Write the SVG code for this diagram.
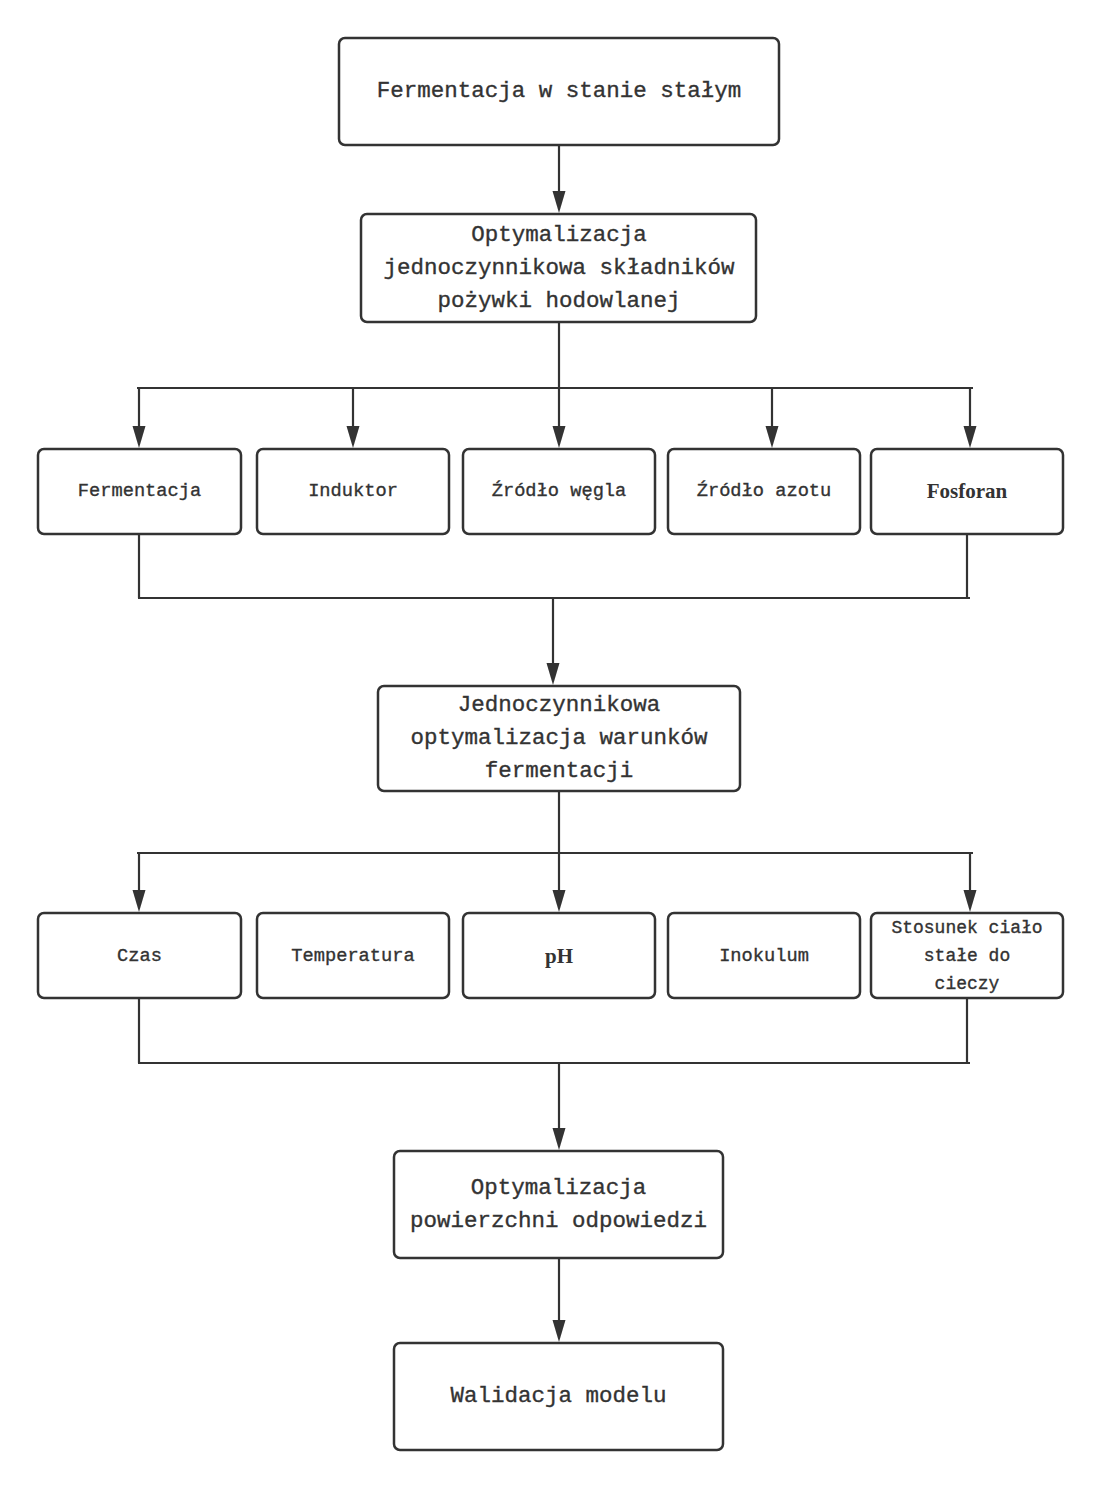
<svg xmlns="http://www.w3.org/2000/svg" width="1101" height="1488" viewBox="0 0 1101 1488">
<style>
.box{fill:#fff;stroke:#333;stroke-width:2.5}
.t{font-family:"Liberation Mono","DejaVu Sans Mono",monospace;fill:#333;stroke:#333;stroke-width:0.35;text-anchor:middle;dominant-baseline:central}
.big{font-size:22.5px}
.sm{font-size:18.7px}
.b{font-family:"Liberation Serif","Times New Roman",serif;font-weight:bold;font-size:21px;fill:#333;text-anchor:middle;dominant-baseline:central}
.ln{fill:none;stroke:#333;stroke-width:2.2}
.ah{fill:#333}
</style>
<rect width="1101" height="1488" fill="#fff"/>
<g id="connectors">
<line class="ln" x1="559" y1="145" x2="559" y2="196"/>
<path class="ah" d="M559,213 l-6.5,-22 h13 z"/>
<line class="ln" x1="559" y1="322" x2="559" y2="430"/>
<path class="ah" d="M559,448 l-6.5,-22 h13 z"/>
<line class="ln" x1="137" y1="388" x2="973" y2="388"/>
<line class="ln" x1="139" y1="388" x2="139" y2="430"/>
<path class="ah" d="M139,448 l-6.5,-22 h13 z"/>
<line class="ln" x1="353" y1="388" x2="353" y2="430"/>
<path class="ah" d="M353,448 l-6.5,-22 h13 z"/>
<line class="ln" x1="772" y1="388" x2="772" y2="430"/>
<path class="ah" d="M772,448 l-6.5,-22 h13 z"/>
<line class="ln" x1="970" y1="388" x2="970" y2="430"/>
<path class="ah" d="M970,448 l-6.5,-22 h13 z"/>
<line class="ln" x1="139" y1="534" x2="139" y2="598"/>
<line class="ln" x1="967" y1="534" x2="967" y2="598"/>
<line class="ln" x1="138" y1="598" x2="970" y2="598"/>
<line class="ln" x1="553" y1="598" x2="553" y2="668"/>
<path class="ah" d="M553,685 l-6.5,-22 h13 z"/>
<line class="ln" x1="559" y1="791" x2="559" y2="895"/>
<path class="ah" d="M559,912 l-6.5,-22 h13 z"/>
<line class="ln" x1="137" y1="853" x2="973" y2="853"/>
<line class="ln" x1="139" y1="853" x2="139" y2="895"/>
<path class="ah" d="M139,912 l-6.5,-22 h13 z"/>
<line class="ln" x1="970" y1="853" x2="970" y2="895"/>
<path class="ah" d="M970,912 l-6.5,-22 h13 z"/>
<line class="ln" x1="139" y1="998" x2="139" y2="1063"/>
<line class="ln" x1="967" y1="998" x2="967" y2="1063"/>
<line class="ln" x1="138" y1="1063" x2="970" y2="1063"/>
<line class="ln" x1="559" y1="1063" x2="559" y2="1133"/>
<path class="ah" d="M559,1150 l-6.5,-22 h13 z"/>
<line class="ln" x1="559" y1="1258" x2="559" y2="1325"/>
<path class="ah" d="M559,1342 l-6.5,-22 h13 z"/>
</g>
<g id="n1"><rect class="box" x="339" y="38" width="440" height="107" rx="6"/><text class="t big" x="559" y="91">Fermentacja w stanie stałym</text></g>
<g id="n2"><rect class="box" x="361" y="214" width="395" height="108" rx="6"/>
<text class="t big" x="559" y="235">Optymalizacja</text>
<text class="t big" x="559" y="268">jednoczynnikowa składników</text>
<text class="t big" x="559" y="301">pożywki hodowlanej</text></g>
<g id="a1"><rect class="box" x="38" y="449" width="203" height="85" rx="6"/><text class="t sm" x="139.5" y="491">Fermentacja</text></g>
<g id="a2"><rect class="box" x="257" y="449" width="192" height="85" rx="6"/><text class="t sm" x="353" y="491">Induktor</text></g>
<g id="a3"><rect class="box" x="463" y="449" width="192" height="85" rx="6"/><text class="t sm" x="559" y="491">Źródło węgla</text></g>
<g id="a4"><rect class="box" x="668" y="449" width="192" height="85" rx="6"/><text class="t sm" x="764" y="491">Źródło azotu</text></g>
<g id="a5"><rect class="box" x="871" y="449" width="192" height="85" rx="6"/><text class="b" x="967" y="491">Fosforan</text></g>
<g id="n3"><rect class="box" x="378" y="686" width="362" height="105" rx="6"/>
<text class="t big" x="559" y="705">Jednoczynnikowa</text>
<text class="t big" x="559" y="738">optymalizacja warunków</text>
<text class="t big" x="559" y="771">fermentacji</text></g>
<g id="b1"><rect class="box" x="38" y="913" width="203" height="85" rx="6"/><text class="t sm" x="139.5" y="956">Czas</text></g>
<g id="b2"><rect class="box" x="257" y="913" width="192" height="85" rx="6"/><text class="t sm" x="353" y="956">Temperatura</text></g>
<g id="b3"><rect class="box" x="463" y="913" width="192" height="85" rx="6"/><text class="b" x="559" y="956">pH</text></g>
<g id="b4"><rect class="box" x="668" y="913" width="192" height="85" rx="6"/><text class="t sm" x="764" y="956">Inokulum</text></g>
<g id="b5"><rect class="box" x="871" y="913" width="192" height="85" rx="6"/>
<text class="t sm" x="967" y="928" style="font-size:18px">Stosunek ciało</text>
<text class="t sm" x="967" y="956" style="font-size:18px">stałe do</text>
<text class="t sm" x="967" y="984" style="font-size:18px">cieczy</text></g>
<g id="n4"><rect class="box" x="394" y="1151" width="329" height="107" rx="6"/>
<text class="t big" x="558.5" y="1188">Optymalizacja</text>
<text class="t big" x="558.5" y="1221">powierzchni odpowiedzi</text></g>
<g id="n5"><rect class="box" x="394" y="1343" width="329" height="107" rx="6"/><text class="t big" x="558.5" y="1396">Walidacja modelu</text></g>
</svg>
